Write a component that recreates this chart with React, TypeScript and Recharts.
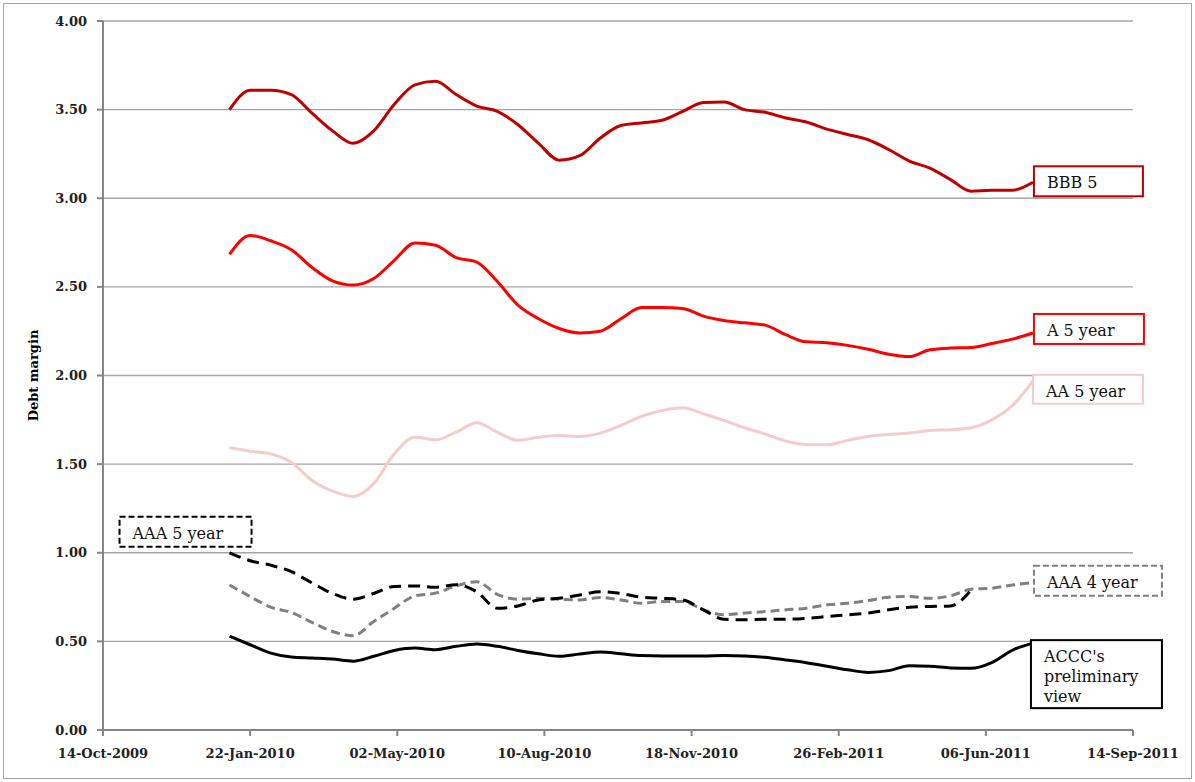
import { LineChart, Line, XAxis, YAxis, CartesianGrid, ReferenceDot } from 'recharts'

const dates = [
  '2010-01-08', '2010-01-22', '2010-02-05', '2010-02-19', '2010-03-05', '2010-03-19', '2010-04-02', '2010-04-16',
  '2010-04-30', '2010-05-14', '2010-05-28', '2010-06-11', '2010-06-25', '2010-07-09', '2010-07-23', '2010-08-06',
  '2010-08-20', '2010-09-03', '2010-09-17', '2010-10-01', '2010-10-15', '2010-10-29', '2010-11-12', '2010-11-26',
  '2010-12-10', '2010-12-24', '2011-01-07', '2011-01-21', '2011-02-04', '2011-02-18', '2011-03-04', '2011-03-18',
  '2011-04-01', '2011-04-15', '2011-04-29', '2011-05-13', '2011-05-27', '2011-06-10', '2011-06-24', '2011-07-08',
]

const bbb5 = [
  3.5, 3.61, 3.61, 3.585, 3.48, 3.38, 3.31, 3.38, 3.53, 3.64, 3.66, 3.585, 3.52, 3.49, 3.415, 3.31, 3.215, 3.24, 3.34, 3.41,
  3.425, 3.44, 3.49, 3.54, 3.543, 3.5, 3.485, 3.453, 3.43, 3.39, 3.36, 3.33, 3.275, 3.21, 3.17, 3.105, 3.04, 3.045, 3.045, 3.09,
]
const a5 = [
  2.684, 2.79, 2.76, 2.71, 2.61, 2.534, 2.51, 2.547, 2.65, 2.748, 2.735, 2.665, 2.64, 2.53, 2.397, 2.32, 2.265, 2.24, 2.25, 2.32,
  2.383, 2.383, 2.378, 2.335, 2.31, 2.297, 2.284, 2.23, 2.19, 2.185, 2.17, 2.148, 2.12, 2.107, 2.145, 2.155, 2.158, 2.18, 2.205, 2.24,
]
const aa5 = [
  1.592, 1.573, 1.558, 1.51, 1.408, 1.348, 1.318, 1.39, 1.558, 1.652, 1.637, 1.68, 1.733, 1.68, 1.634, 1.652, 1.662, 1.656, 1.675, 1.718,
  1.769, 1.803, 1.818, 1.784, 1.746, 1.705, 1.67, 1.63, 1.611, 1.609, 1.634, 1.656, 1.667, 1.675, 1.69, 1.694, 1.705, 1.75, 1.83, 1.97,
]
// AAA 5 year stops where it meets AAA 4 year
const aaa5: (number | null)[] = [
  1.0, 0.955, 0.93, 0.893, 0.83, 0.77, 0.738, 0.77, 0.81, 0.813, 0.805, 0.82, 0.78, 0.687, 0.7, 0.734, 0.743, 0.762, 0.78, 0.77,
  0.749, 0.743, 0.734, 0.678, 0.625, 0.622, 0.625, 0.625, 0.63, 0.64, 0.65, 0.66, 0.678, 0.693, 0.697, 0.7, 0.79, null, null, null,
]
const aaa4 = [
  0.818, 0.753, 0.693, 0.663, 0.607, 0.556, 0.532, 0.612, 0.687, 0.757, 0.772, 0.813, 0.837, 0.765, 0.738, 0.743, 0.738, 0.734, 0.747, 0.734,
  0.715, 0.725, 0.725, 0.678, 0.65, 0.66, 0.668, 0.678, 0.687, 0.706, 0.715, 0.73, 0.749, 0.753, 0.743, 0.757, 0.794, 0.8, 0.818, 0.831,
]
const accc = [
  0.53, 0.481, 0.434, 0.412, 0.406, 0.4, 0.388, 0.416, 0.449, 0.462, 0.453, 0.472, 0.485, 0.472, 0.449, 0.43, 0.416, 0.429, 0.44, 0.43,
  0.42, 0.418, 0.418, 0.418, 0.42, 0.418, 0.41, 0.395, 0.38, 0.36, 0.34, 0.325, 0.335, 0.362, 0.36, 0.35, 0.348, 0.38, 0.45, 0.49,
]

const xTickDates = ['2009-10-14', '2010-01-22', '2010-05-02', '2010-08-10', '2010-11-18', '2011-02-26', '2011-06-06', '2011-09-14']
const yTicks = [0, 0.5, 1, 1.5, 2, 2.5, 3, 3.5, 4]

const MONTHS = ['Jan', 'Feb', 'Mar', 'Apr', 'May', 'Jun', 'Jul', 'Aug', 'Sep', 'Oct', 'Nov', 'Dec']
const toTs = (s: string) => {
  const [y, m, d] = s.split('-').map(Number)
  return Date.UTC(y, m - 1, d)
}
const fmtDate = (t: number) => {
  const d = new Date(t)
  return `${String(d.getUTCDate()).padStart(2, '0')}-${MONTHS[d.getUTCMonth()]}-${d.getUTCFullYear()}`
}

const rows = dates.map((d, i) => ({
  t: toTs(d),
  bbb5: bbb5[i],
  a5: a5[i],
  aa5: aa5[i],
  aaa5: aaa5[i],
  aaa4: aaa4[i],
  accc: accc[i],
}))

const xTicks = xTickDates.map(toTs)
const FONT = '"DejaVu Serif", serif'
const last = dates.length - 1

interface BoxProps {
  cx?: number
  cy?: number
  lines: string[]
  dx: number
  dy: number
  w: number
  h: number
  stroke: string
  dash?: string
}

function BoxLabel({ cx = 0, cy = 0, lines, dx, dy, w, h, stroke, dash }: BoxProps) {
  const x = cx + dx
  const y = cy + dy
  return (
    <g>
      <rect x={x} y={y} width={w} height={h} fill="#fff" stroke={stroke} strokeWidth={2} strokeDasharray={dash} />
      {lines.map((l, i) => (
        <text key={i} x={x + 13} y={y + 22 + i * 20} fontFamily={FONT} fontSize={16} fill="#111">
          {l}
        </text>
      ))}
    </g>
  )
}

const box = (p: Omit<BoxProps, 'cx' | 'cy'>) => (props: any) => <BoxLabel {...props} {...p} />

export default function App() {
  return (
    <div
      style={{
        position: 'absolute',
        left: 3,
        top: 3,
        width: 1187,
        height: 774,
        border: '1px solid #a6a6a6',
        background: '#fff',
      }}
    >
      <LineChart width={1187} height={774} data={rows} margin={{ top: 17, right: 58, left: 39, bottom: 18 }}>
        <CartesianGrid vertical={false} stroke="#a6a6a6" strokeWidth={1.3} />
        <XAxis
          dataKey="t"
          type="number"
          scale="time"
          domain={[xTicks[0], xTicks[xTicks.length - 1]]}
          ticks={xTicks}
          tickFormatter={fmtDate}
          height={30}
          stroke="#868686"
          strokeWidth={2}
          tickSize={6}
          tickMargin={13}
          tick={{ fontFamily: FONT, fontSize: 13, fontWeight: 'bold', fill: '#222' }}
          interval={0}
        />
        <YAxis
          type="number"
          domain={[0, 4]}
          ticks={yTicks}
          tickFormatter={(v: number) => v.toFixed(2)}
          width={60}
          stroke="#868686"
          strokeWidth={2}
          tickSize={6}
          tickMargin={10}
          tick={{ fontFamily: FONT, fontSize: 13, fontWeight: 'bold', fill: '#222' }}
          interval={0}
          label={{
            value: 'Debt margin',
            angle: -90,
            position: 'insideLeft',
            offset: -10,
            style: { textAnchor: 'middle', fontFamily: FONT, fontSize: 13, fontWeight: 'bold', fill: '#000' },
          }}
        />
        <Line dataKey="aa5" type="monotone" stroke="#f4cccc" strokeWidth={3} dot={false} isAnimationActive={false} />
        <Line dataKey="a5" type="monotone" stroke="#ff0000" strokeWidth={3} dot={false} isAnimationActive={false} />
        <Line dataKey="bbb5" type="monotone" stroke="#c00000" strokeWidth={3} dot={false} isAnimationActive={false} />
        <Line dataKey="aaa4" type="monotone" stroke="#808080" strokeWidth={3} strokeDasharray="9 5" dot={false} isAnimationActive={false} />
        <Line dataKey="aaa5" type="monotone" stroke="#000" strokeWidth={3} strokeDasharray="12 7" dot={false} isAnimationActive={false} />
        <Line dataKey="accc" type="monotone" stroke="#000" strokeWidth={3} dot={false} isAnimationActive={false} />

        <ReferenceDot x={rows[last].t} y={bbb5[last]} r={0} ifOverflow="visible"
          shape={box({ lines: ['BBB 5'], dx: 1, dy: -16, w: 109, h: 30, stroke: '#c00000' })} />
        <ReferenceDot x={rows[last].t} y={a5[last]} r={0} ifOverflow="visible"
          shape={box({ lines: ['A 5 year'], dx: 1, dy: -19, w: 110, h: 30, stroke: '#ff0000' })} />
        <ReferenceDot x={rows[last].t} y={aa5[last]} r={0} ifOverflow="visible"
          shape={box({ lines: ['AA 5 year'], dx: 0, dy: -6, w: 110, h: 29, stroke: '#f4cccc' })} />
        <ReferenceDot x={rows[last].t} y={aaa4[last]} r={0} ifOverflow="visible"
          shape={box({ lines: ['AAA 4 year'], dx: 1, dy: -17, w: 128, h: 30, stroke: '#808080', dash: '6 3' })} />
        <ReferenceDot x={rows[last].t} y={accc[last]} r={0} ifOverflow="visible"
          shape={box({ lines: ["ACCC's", 'preliminary', 'view'], dx: -2, dy: -3, w: 131, h: 68, stroke: '#000' })} />
        <ReferenceDot x={rows[0].t} y={aaa5[0] as number} r={0} ifOverflow="visible"
          shape={box({ lines: ['AAA 5 year'], dx: -110, dy: -36, w: 132, h: 30, stroke: '#000', dash: '6 3' })} />
      </LineChart>
    </div>
  )
}
